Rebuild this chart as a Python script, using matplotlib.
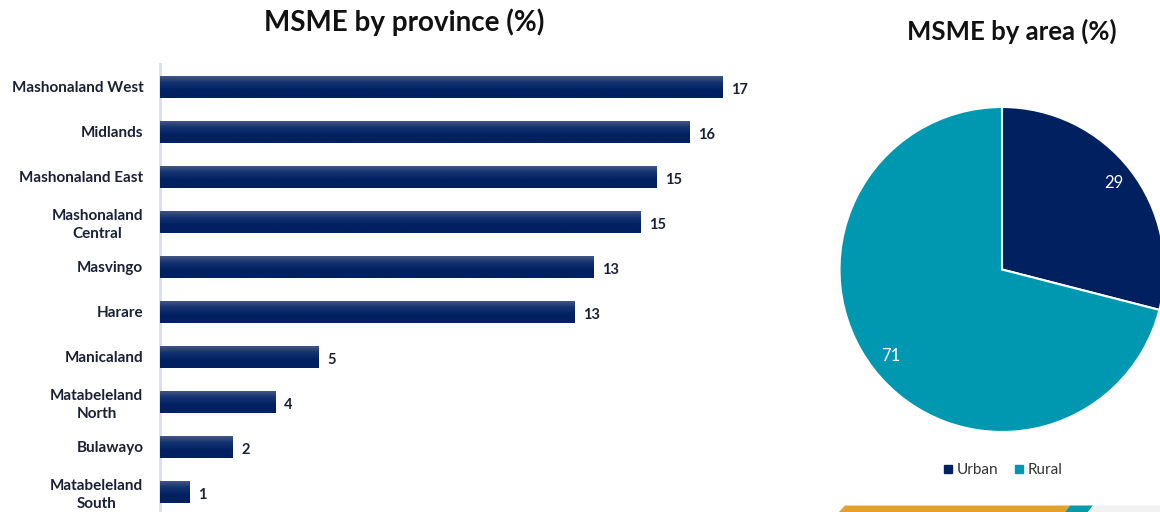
import numpy as np
import matplotlib
matplotlib.use('Agg')
import matplotlib.pyplot as plt
from matplotlib.colors import LinearSegmentedColormap
from matplotlib.lines import Line2D
from matplotlib.patches import Polygon

plt.rcParams['font.family'] = ['Lato', 'DejaVu Sans']

# share of MSMEs by province (%), top to bottom
provinces = ['Mashonaland West', 'Midlands', 'Mashonaland East', 'Mashonaland\nCentral',
             'Masvingo', 'Harare', 'Manicaland', 'Matabeleland\nNorth', 'Bulawayo',
             'Matabeleland\nSouth']
province_share = [17.0, 16.0, 15.0, 14.52, 13.1, 12.52, 4.8, 3.5, 2.2, 0.9]

# share of MSMEs by area (%)
areas = ['Urban', 'Rural']
area_share = [29, 71]

NAVY = '#002060'
TEAL = '#0098b0'
TEXT = '#1b2036'

fig = plt.figure(figsize=(11.6, 5.12), dpi=100)

# ---- horizontal bars by province ----
ax = fig.add_axes([160 / 1160, -2.5 / 512, 662 / 1160, 450 / 512])
y = np.arange(len(provinces))
bars = ax.barh(y, province_share, height=0.5, color=NAVY, zorder=2)

grad = np.linspace(0, 1, 64).reshape(-1, 1)
shade = LinearSegmentedColormap.from_list('shade', ['#4a5b84', '#123170', NAVY, NAVY])
for bar in bars:
    x0, y0 = bar.get_x(), bar.get_y()
    w, h = bar.get_width(), bar.get_height()
    im = ax.imshow(grad, cmap=shade, extent=(x0, x0 + w, y0 + h, y0),
                   aspect='auto', zorder=3, interpolation='bilinear')
    im.set_clip_path(bar)
    ax.annotate(f'{w:.0f}', (x0 + w, y0 + h / 2), xytext=(6, -2),
                textcoords='offset points', ha='left', va='center',
                fontsize=10.5, fontweight='bold', color=TEXT)

ax.set_xlim(0, 20)
ax.set_ylim(len(provinces) - 0.5, -0.5)
ax.set_yticks(y)
ax.set_yticklabels(provinces, fontsize=11, fontweight='bold', color=TEXT,
                   multialignment='center', linespacing=1.35)
ax.tick_params(axis='y', length=0, pad=12)
ax.set_xticks([])
for side in ['top', 'right', 'bottom']:
    ax.spines[side].set_visible(False)
ax.spines['left'].set_color('#d6def0')
ax.spines['left'].set_linewidth(2)

fig.text(404 / 1160, 1 - 22 / 512, 'MSME by province (%)', ha='center', va='center',
         fontsize=20, fontweight='bold', color='#111111')

# ---- pie by area ----
pax = fig.add_axes([(1002 - 162.5) / 1160, (512 - 269.5 - 162.5) / 512, 325 / 1160, 325 / 512])
wedges, _, pct = pax.pie(area_share, colors=[NAVY, TEAL], startangle=90, counterclock=False,
                         autopct=lambda p: f'{p:.0f}', pctdistance=0.87,
                         wedgeprops=dict(edgecolor='white', linewidth=1.5))
for t in pct:
    t.set_color('white')
    t.set_fontsize(12)
pax.set_xlim(-1, 1)
pax.set_ylim(-1, 1)
pax.set_aspect('equal')

fig.text(1012 / 1160, 1 - 31 / 512, 'MSME by area (%)', ha='center', va='center',
         fontsize=18.5, fontweight='bold', color='#111111')

handles = [Line2D([], [], marker='s', linestyle='', color=c, markersize=6)
           for c in [NAVY, TEAL]]
fig.legend(handles, areas, loc='center', bbox_to_anchor=(1003 / 1160, 1 - 470 / 512),
           ncol=2, frameon=False, fontsize=11, handlelength=0.6, handletextpad=0.3,
           columnspacing=1.0, labelcolor='#333333')

# slide footer stripe
fig.patches.append(Polygon([(839 / 1160, 0), (845 / 1160, 6.5 / 512), (1070 / 1160, 6.5 / 512),
                            (1065 / 1160, 0)], closed=True, transform=fig.transFigure,
                           facecolor='#e2a22a', edgecolor='none'))
fig.patches.append(Polygon([(1065 / 1160, 0), (1070 / 1160, 6.5 / 512), (1093 / 1160, 6.5 / 512),
                            (1088 / 1160, 0)], closed=True, transform=fig.transFigure,
                           facecolor='#0a9aab', edgecolor='none'))
fig.patches.append(Polygon([(1088 / 1160, 0), (1093 / 1160, 6.5 / 512), (1, 6.5 / 512),
                            (1, 0)], closed=True, transform=fig.transFigure,
                           facecolor='#f2f2f2', edgecolor='none'))

fig.savefig('out.png', dpi=100)
